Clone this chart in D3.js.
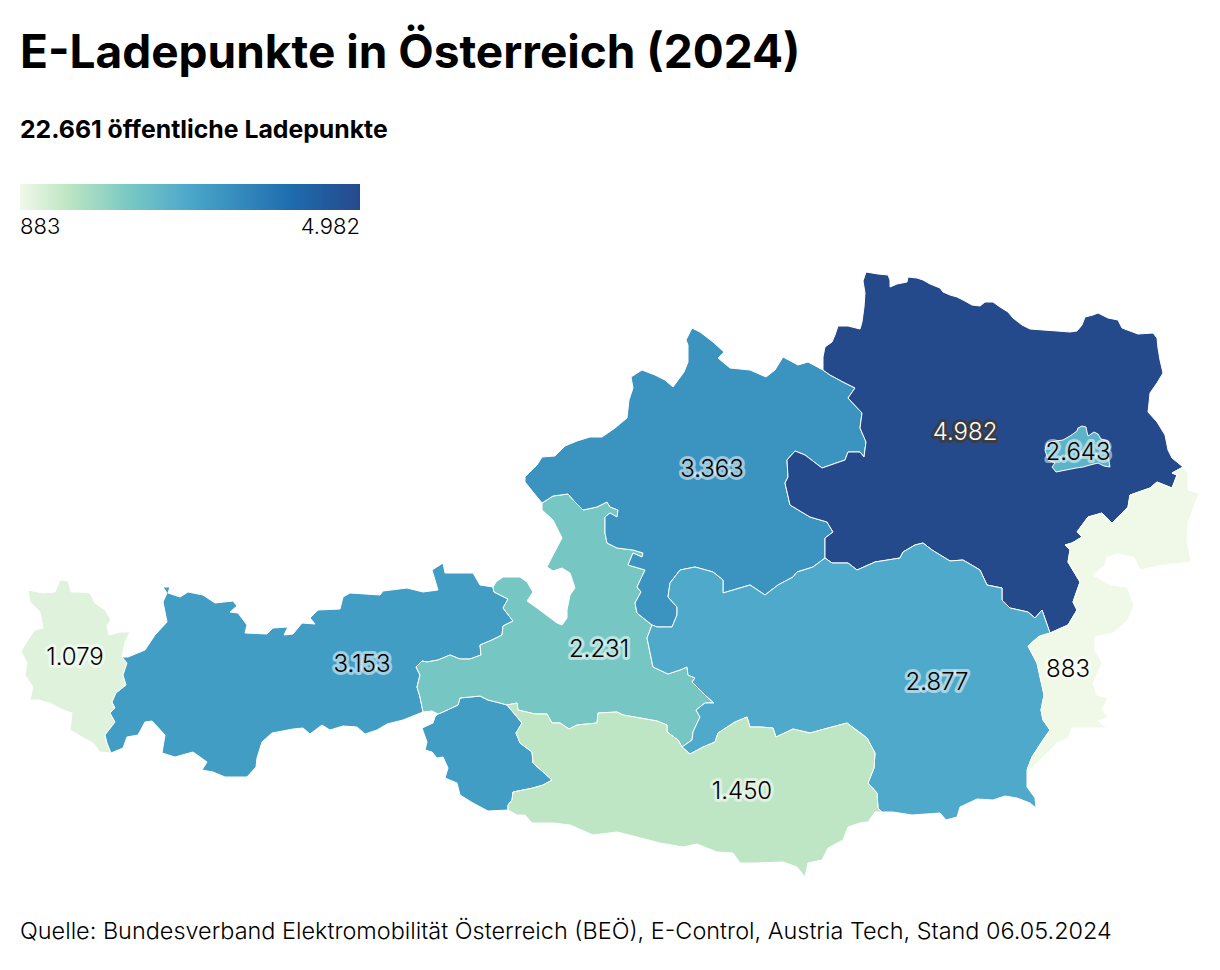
<!DOCTYPE html>
<html>
<head>
<meta charset="utf-8">
<script src="https://cdnjs.cloudflare.com/ajax/libs/d3/7.8.5/d3.min.js"></script>
<style>
  html, body { margin: 0; background: white; }
  text { font-family: Inter, "Noto Sans", sans-serif; fill: black; }
</style>
</head>
<body>
<div id="chart"></div>
<script>
// werte je bundesland
var regions = ["Vorarlberg", "Tirol", "Salzburg", "Oberösterreich", "Niederösterreich", "Wien", "Steiermark", "Kärnten", "Burgenland"];
var values = [1079, 3153, 2231, 3363, 4982, 2643, 2877, 1450, 883];
var colorStops = ["#f0f9e8", "#bfe6c4", "#76c7c3", "#4fa9cb", "#429dc5", "#1f6cae", "#254a8c"];
var stopValues = [883, 1450, 2231, 2877, 3153, 4150, 4982];
var labelAnchors = [[75, 656], [362, 663], [599, 648], [712, 468], [965, 431], [1078, 451], [937, 681], [742, 790], [1068, 668]];

var titleText = "E-Ladepunkte in Österreich (2024)";
var subtitleSuffix = " öffentliche Ladepunkte";
var sourceText = "Quelle: Bundesverband Elektromobilität Österreich (BEÖ), E-Control, Austria Tech, Stand 06.05.2024";

// grenzlinien, aus der vorlage abgezeichnet (karteneinheiten, y nach unten)
var vFree = [[111,753],[100,752],[93,743],[82,737],[70,730],[72,713],[63,710],[50,703],[38,700],[30,700],[33,687],[25,675],[27,663],[21,651],[30,637],[35,630],[43,628],[40,612],[30,602],[28,590],[43,593],[55,592],[60,580],[68,581],[71,592],[78,592],[90,593],[95,603],[105,610],[111,620],[107,625],[109,635],[120,632],[130,632],[125,642],[122,657]];
var vtBorder = [[122,657],[127,663],[123,675],[126,685],[116,693],[112,702],[115,708],[110,713],[115,722],[105,735],[107,743],[111,753]];
var tN = [[122,657],[128,657],[145,650],[155,635],[167,622],[163,602],[167,593],[163,587],[170,587],[168,593],[180,597],[188,592],[203,595],[215,603],[233,601],[237,606],[230,612],[238,613],[247,625],[245,633],[267,634],[273,628],[288,627],[284,635],[293,634],[302,623],[315,624],[310,618],[318,610],[340,609],[343,597],[350,593],[380,595],[383,591],[407,588],[423,592],[438,590],[432,570],[443,563],[445,573],[457,573],[473,573],[480,585],[493,587]];
var stBorder = [[493,587],[494,592],[508,599],[503,608],[513,621],[503,626],[502,635],[492,640],[480,645],[481,655],[470,659],[460,659],[450,655],[438,660],[427,662],[422,661],[416,667],[420,675],[417,687],[420,697],[423,712]];
var tS = [[423,712],[403,720],[387,724],[377,730],[365,734],[357,727],[343,726],[330,730],[322,725],[310,734],[303,728],[293,729],[272,733],[262,742],[257,758],[256,767],[247,777],[225,777],[213,772],[202,770],[207,762],[193,752],[175,757],[162,753],[165,735],[152,721],[145,722],[138,735],[127,737],[123,748],[111,753]];
var sFreeN = [[493,587],[496,582],[503,577],[520,577],[527,582],[533,592],[527,601],[537,608],[557,623],[562,625],[567,618],[567,610],[570,595],[575,588],[570,573],[562,568],[553,571],[547,567],[552,557],[562,538],[553,520],[542,510],[542,503]];
var sOoe = [[542,503],[553,496],[568,494],[575,502],[583,510],[597,507],[607,502],[610,507],[618,510],[617,517],[610,513],[605,517],[605,533],[607,543],[617,548],[633,550],[643,553],[642,557],[633,553],[628,565],[645,570],[637,587],[641,592],[635,603],[637,613],[652,625]];
var sStmk = [[652,625],[647,638],[653,667],[668,674],[680,670],[687,667],[688,675],[695,678],[692,682],[705,695],[714,703],[705,703],[696,710],[700,717],[693,732],[692,740],[682,747]];
var sKtn = [[682,747],[678,740],[667,732],[667,725],[657,721],[640,718],[623,715],[617,712],[598,713],[597,723],[577,725],[569,729],[560,723],[552,723],[547,714],[535,714],[518,710],[517,703],[507,705]];
var sOst = [[507,705],[500,703],[488,700],[480,696],[470,697],[460,698],[458,705],[443,712],[438,714]];
var sFreeS = [[438,714],[432,711],[423,712]];
var ostFree = [[438,714],[435,717],[433,723],[422,728],[427,742],[425,750],[432,752],[437,758],[443,757],[448,768],[445,778],[457,783],[460,795],[473,803],[488,811],[508,810]];
var oKtn = [[507,705],[522,723],[516,733],[520,743],[532,752],[533,763],[552,780],[543,785],[533,788],[513,792],[512,800],[508,805],[508,810]];
var ktnS = [[508,810],[517,815],[525,815],[532,823],[553,823],[570,825],[593,835],[617,832],[637,837],[660,843],[683,847],[697,844],[717,852],[733,853],[740,863],[757,863],[783,862],[797,867],[805,877],[808,863],[822,860],[828,848],[843,840],[848,827],[860,823],[868,822],[875,812],[882,812]];
var ktnStmk = [[882,812],[878,808],[877,793],[868,783],[874,768],[875,753],[867,738],[847,723],[828,728],[810,733],[793,729],[776,737],[773,728],[760,727],[750,727],[747,717],[735,722],[718,733],[715,742],[703,747],[690,754],[682,747]];
var stmkS = [[882,812],[893,812],[912,815],[940,813],[946,820],[957,817],[960,807],[977,799],[993,800],[1005,796],[1017,798],[1030,803],[1036,808],[1035,798],[1027,787],[1027,770]];
var stmkBgld = [[1027,770],[1032,757],[1043,740],[1050,730],[1043,720],[1041,710],[1044,695],[1037,663],[1028,646],[1037,638],[1040,636],[1050,633]];
var noeStmk = [[1050,633],[1042,610],[1035,618],[1028,612],[1010,608],[1002,600],[1002,588],[987,585],[980,570],[963,560],[950,561],[932,550],[923,543],[915,545],[903,552],[900,558],[875,562],[857,570],[848,563],[832,563],[825,558]];
var oStmk = [[825,558],[813,567],[797,572],[793,577],[778,585],[765,595],[750,585],[723,593],[723,580],[713,572],[695,567],[680,570],[670,583],[668,597],[677,607],[677,615],[672,627],[657,627],[652,625]];
var ooeNoe = [[825,558],[825,538],[833,532],[827,522],[810,517],[790,505],[785,483],[788,477],[787,460],[795,451],[805,455],[822,468],[845,460],[848,452],[860,452],[864,457],[866,442],[860,428],[862,413],[848,398],[855,388],[843,382],[830,375],[823,370]];
var ooeN = [[542,503],[533,492],[525,482],[525,477],[532,470],[537,465],[542,457],[555,456],[565,446],[577,441],[590,437],[602,437],[615,428],[627,418],[629,400],[633,388],[631,377],[642,370],[655,375],[665,380],[673,387],[684,372],[688,362],[688,345],[686,340],[692,328],[700,332],[713,342],[724,352],[718,358],[730,368],[750,370],[766,377],[775,370],[783,357],[798,365],[808,362],[823,370]];
var noeN = [[823,370],[823,357],[825,347],[832,342],[835,335],[838,326],[848,326],[860,329],[862,322],[864,307],[865,293],[863,281],[866,272],[872,273],[878,274],[888,275],[890,280],[890,287],[897,284],[907,282],[908,277],[917,278],[923,280],[930,284],[940,288],[943,292],[950,295],[957,297],[963,300],[972,305],[980,306],[985,302],[993,302],[1000,307],[1008,312],[1013,318],[1022,325],[1030,329],[1043,330],[1057,331],[1070,332],[1077,331],[1082,325],[1085,317],[1093,315],[1098,313],[1108,318],[1118,320],[1122,328],[1130,331],[1138,334],[1153,333],[1157,338],[1158,348],[1160,360],[1163,373],[1157,383],[1150,393],[1149,403],[1148,412],[1157,422],[1165,435],[1168,450],[1172,458],[1183,467]];
var noeBgld = [[1183,467],[1172,473],[1177,475],[1172,488],[1157,482],[1150,488],[1130,495],[1128,507],[1112,523],[1102,513],[1088,517],[1077,532],[1082,537],[1072,543],[1065,545],[1070,550],[1068,562],[1080,582],[1073,602],[1077,610],[1068,625],[1050,633]];
var bgldFree = [[1183,467],[1188,473],[1188,490],[1199,493],[1188,523],[1187,540],[1191,562],[1163,565],[1140,570],[1134,557],[1118,554],[1107,557],[1105,565],[1093,575],[1110,585],[1127,587],[1134,605],[1128,620],[1113,633],[1095,637],[1095,650],[1102,663],[1093,683],[1097,695],[1108,698],[1102,710],[1108,717],[1098,721],[1107,728],[1072,728],[1068,738],[1057,743],[1047,753],[1033,767],[1027,770]];
var wienRing = [[1082,426],[1086,427],[1087,432],[1088,436],[1094,432],[1098,434],[1101,439],[1108,441],[1110,447],[1108,455],[1110,467],[1104,466],[1098,463],[1090,465],[1083,467],[1076,468],[1066,470],[1056,472],[1052,467],[1055,463],[1048,460],[1045,450],[1047,443],[1056,441],[1063,440],[1070,436],[1077,431],[1078,428],[1082,426]];

function rev(line) {
  return line.slice().reverse();
}

function ring() {
  var parts = Array.prototype.slice.call(arguments);
  return d3.merge(parts);
}

var rings = {
  "Vorarlberg": [ring(vFree, vtBorder)],
  "Tirol": [ring(tN, stBorder, tS, rev(vtBorder)), ring(ostFree, rev(oKtn), sOst)],
  "Salzburg": [ring(sFreeN, sOoe, sStmk, sKtn, sOst, sFreeS, rev(stBorder))],
  "Oberösterreich": [ring(ooeN, rev(ooeNoe), oStmk, rev(sOoe))],
  "Niederösterreich": [ring(noeN, noeBgld, noeStmk, ooeNoe)],
  "Wien": [wienRing],
  "Steiermark": [ring(oStmk, sStmk, rev(ktnStmk), stmkS, stmkBgld, noeStmk)],
  "Kärnten": [ring(oKtn, ktnS, ktnStmk, sKtn)],
  "Burgenland": [ring(bgldFree, stmkBgld, rev(noeBgld))]
};

var features = regions.map(function(name, i) {
  return {
    type: "Feature",
    properties: { name: name, value: values[i], anchor: labelAnchors[i] },
    geometry: {
      type: "MultiPolygon",
      coordinates: rings[name].map(function(r) { return [r]; })
    }
  };
});

var width = 1220, height = 970;
var deNum = d3.formatLocale({ decimal: ",", thousands: ".", grouping: [3], currency: ["", "€"] }).format(",d");

var color = d3.scaleLinear().domain(stopValues).range(colorStops);

var svg = d3.select("#chart").append("svg")
  .attr("width", width)
  .attr("height", height)
  .style("display", "block");

svg.append("text").attr("x", 20).attr("y", 68)
  .style("font-size", "46px").style("font-weight", 650)
  .text(titleText);

svg.append("text").attr("x", 20).attr("y", 138)
  .style("font-size", "24.8px").style("font-weight", 650)
  .text(deNum(d3.sum(values)) + subtitleSuffix);

// legende
var legendX = d3.scaleLinear().domain(d3.extent(values)).range([20, 360]);
var gradient = svg.append("defs").append("linearGradient").attr("id", "legend-grad");
stopValues.forEach(function(v) {
  gradient.append("stop")
    .attr("offset", (legendX(v) - 20) / 340)
    .attr("stop-color", color(v));
});
svg.append("rect")
  .attr("x", legendX.range()[0]).attr("y", 184)
  .attr("width", legendX.range()[1] - legendX.range()[0]).attr("height", 26)
  .attr("fill", "url(#legend-grad)");
legendX.domain().forEach(function(v, i) {
  svg.append("text")
    .attr("x", legendX(v)).attr("y", 234)
    .attr("text-anchor", i === 0 ? "start" : "end")
    .style("font-size", "22px")
    .style("font-weight", 300)
    .text(deNum(v));
});

// karte
var fc = { type: "FeatureCollection", features: features };
var projection = d3.geoIdentity().fitExtent([[21, 272], [1199, 877]], fc);
var path = d3.geoPath(projection);

svg.append("g").selectAll("path")
  .data(features)
  .enter()
  .append("path")
  .attr("d", path)
  .attr("fill", function(d) { return color(d.properties.value); })
  .attr("stroke", "white")
  .attr("stroke-width", 1)
  .attr("stroke-linejoin", "round");

svg.append("g").selectAll("text")
  .data(features)
  .enter()
  .append("text")
  .attr("x", function(d) { return projection(d.properties.anchor)[0]; })
  .attr("y", function(d) { return projection(d.properties.anchor)[1]; })
  .attr("dy", "0.36em")
  .attr("text-anchor", "middle")
  .style("font-size", "24px")
  .style("font-weight", 300)
  .style("paint-order", "stroke")
  .style("stroke-linejoin", "round")
  .style("stroke-width", "6px")
  .style("fill", function(d) { return d.properties.value > 4000 ? "white" : "black"; })
  .style("stroke", function(d) { return d.properties.value > 4000 ? "rgba(60,60,60,0.9)" : "rgba(255,255,255,0.5)"; })
  .text(function(d) { return deNum(d.properties.value); });

svg.append("text").attr("x", 20).attr("y", 939)
  .style("font-size", "23.45px")
  .style("font-weight", 300)
  .text(sourceText);
</script>
</body>
</html>
